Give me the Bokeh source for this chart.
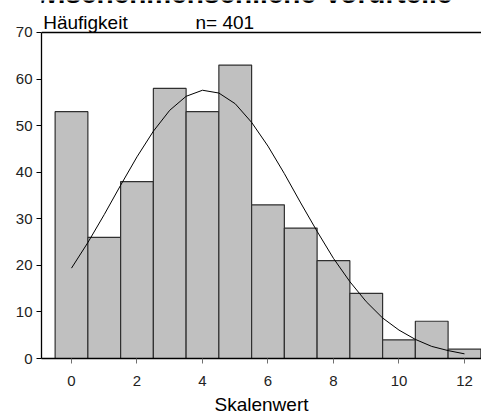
from bokeh.plotting import figure
from bokeh.models import Range1d, LinearAxis, FixedTicker, Label, Span
from bokeh.embed import file_html
from bokeh.resources import INLINE

# data
scale_values = [0, 1, 2, 3, 4, 5, 6, 7, 8, 9, 10, 11, 12]
frequencies = [53, 26, 38, 58, 53, 63, 33, 28, 21, 14, 4, 8, 2]
curve_x = [0, 0.5, 1, 1.5, 2, 2.5, 3, 3.5, 4, 4.5, 5, 5.5, 6, 6.5, 7, 7.5,
           8, 8.5, 9, 9.5, 10, 10.5, 11, 11.5, 12]
curve_y = [19.4, 24.9, 30.9, 37.2, 43.3, 48.8, 53.3, 56.3, 57.6, 57.0, 54.7,
           50.7, 45.6, 39.7, 33.4, 27.3, 21.5, 16.5, 12.2, 8.7, 6.1, 4.1, 2.6,
           1.7, 1.0]
x_ticks = [0, 2, 4, 6, 8, 10, 12]
y_ticks = [0, 10, 20, 30, 40, 50, 60, 70]
y_max = 70
title_text = "Zwischenmenschliche Vorurteile"
y_title = "Häufigkeit"
n_text = "n= 401"
x_title = "Skalenwert"

FONT = "Liberation Sans"

p = figure(width=481, height=418, output_backend="svg", toolbar_location=None,
           x_range=Range1d(-0.916, 12.52), y_range=Range1d(0, 76.87),
           min_border_left=41, min_border_right=0, min_border_top=0,
           min_border_bottom=60, x_axis_location=None, y_axis_location=None)
p.outline_line_color = None
p.xgrid.visible = False
p.ygrid.visible = False
p.background_fill_color = "white"
p.border_fill_color = "white"

p.quad(left=[v - 0.5 for v in scale_values], right=[v + 0.5 for v in scale_values],
       bottom=0, top=frequencies, fill_color="#c0c0c0", line_color="#303030",
       line_width=1.2)
p.line(curve_x, curve_y, line_color="black", line_width=1)

xaxis = LinearAxis(ticker=FixedTicker(ticks=x_ticks))
xaxis.axis_line_color = "black"
xaxis.axis_line_width = 1.3
xaxis.major_tick_line_color = "#707070"
xaxis.major_tick_in = 0
xaxis.major_tick_out = 5
xaxis.minor_tick_line_color = None
xaxis.major_label_text_font = FONT
xaxis.major_label_text_font_size = "15px"
xaxis.major_label_text_color = "#222222"
xaxis.major_label_standoff = 12
xaxis.axis_label = x_title
xaxis.axis_label_text_font = FONT
xaxis.axis_label_text_font_size = "19px"
xaxis.axis_label_text_font_style = "normal"
xaxis.axis_label_text_color = "black"
xaxis.axis_label_standoff = 5
p.add_layout(xaxis, "below")

yaxis = LinearAxis(ticker=FixedTicker(ticks=y_ticks), bounds=(0, y_max))
yaxis.axis_line_color = "black"
yaxis.axis_line_width = 1.3
yaxis.major_tick_line_color = "black"
yaxis.major_tick_in = 0
yaxis.major_tick_out = 5
yaxis.minor_tick_line_color = None
yaxis.major_label_text_font = FONT
yaxis.major_label_text_font_size = "15px"
yaxis.major_label_text_color = "#222222"
yaxis.major_label_standoff = 4
p.add_layout(yaxis, "left")

p.add_layout(Span(location=y_max, dimension="width", line_color="black",
                  line_width=1.3))

p.add_layout(Label(x=5.01, y=78.36, text=title_text, text_font=FONT,
                   text_font_size="28px", text_font_style="bold",
                   text_align="center", text_baseline="alphabetic",
                   text_color="black"))
p.add_layout(Label(x=-0.864, y=72.2, text=y_title, text_font=FONT,
                   text_font_size="19px", text_align="left",
                   text_baseline="alphabetic", text_color="black"))
p.add_layout(Label(x=3.786, y=72.2, text=n_text, text_font=FONT,
                   text_font_size="19px", text_align="left",
                   text_baseline="alphabetic", text_color="black"))

open("out.html", "w").write(file_html(p, INLINE))
